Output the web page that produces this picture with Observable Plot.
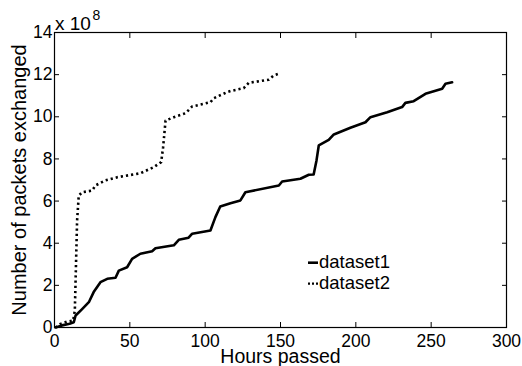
<!DOCTYPE html>
<html>
<head>
<meta charset="utf-8">
<script src="https://cdn.jsdelivr.net/npm/d3@7"></script>
<script src="https://cdn.jsdelivr.net/npm/@observablehq/plot@0.6"></script>
<style>
  html, body { margin: 0; padding: 0; background: #fff; }
  #chart { width: 522px; height: 366px; overflow: hidden; }
  svg { font-family: "Liberation Sans", Arial, sans-serif; }
</style>
</head>
<body>
<div id="chart"></div>
<script>
// Values in units of 1e8 packets
const seriesNames = ["dataset1", "dataset2"];
const d1Hours = [0.7, 5, 10, 12.8, 14, 18, 22.8, 26, 30.5, 35, 40.5, 42.7, 48.2, 51.5, 57, 64.8, 67, 79.2, 82.5, 89, 91.4, 103.5, 106.8, 110, 116.8, 123.4, 126.7, 148.9, 151.1, 163.2, 168.8, 172, 173.9, 175.4, 182, 185.4, 196.4, 206.4, 209.7, 220.8, 230.7, 232.9, 238.4, 246.2, 257.3, 259.5, 263.9];
const d1Values = [0.0, 0.1, 0.18, 0.25, 0.57, 0.85, 1.2, 1.68, 2.15, 2.31, 2.36, 2.7, 2.86, 3.26, 3.5, 3.62, 3.76, 3.9, 4.16, 4.26, 4.45, 4.6, 5.24, 5.74, 5.9, 6.03, 6.42, 6.74, 6.93, 7.06, 7.25, 7.26, 7.93, 8.64, 8.9, 9.16, 9.48, 9.74, 9.98, 10.22, 10.46, 10.66, 10.74, 11.09, 11.33, 11.57, 11.64];
const d2Hours = [0.7, 4, 8.4, 12.4, 13.5, 15, 16.1, 18.4, 25, 27.2, 33.8, 41.6, 57, 65.9, 70.8, 72.1, 73.7, 79.2, 87, 91.4, 103.5, 105.7, 114.6, 116.8, 125.6, 128.9, 142.2, 145.5, 150];
const d2Values = [0.0, 0.17, 0.28, 0.33, 0.81, 5.08, 6.26, 6.42, 6.5, 6.74, 6.98, 7.13, 7.32, 7.61, 7.85, 8.56, 9.82, 9.98, 10.17, 10.49, 10.69, 10.88, 11.17, 11.22, 11.36, 11.61, 11.76, 11.96, 12.07];
const xTicks = [0, 50, 100, 150, 200, 250, 300];
const yTicks = [0, 2, 4, 6, 8, 10, 12, 14];
const xLabel = "Hours passed";
const yLabel = "Number of packets exchanged";
const exponentBase = "x 10";
const exponent = "8";

const d1 = d1Hours.map((h, i) => ({h, v: d1Values[i]}));
const d2 = d2Hours.map((h, i) => ({h, v: d2Values[i]}));

const fontSize = 17.5;
const dotted = "2.2,3";
const plot = Plot.plot({
  width: 522,
  height: 366,
  marginLeft: 54,
  marginRight: 16,
  marginTop: 32,
  marginBottom: 39,
  style: {fontFamily: '"Liberation Sans", Arial, sans-serif', background: "#fff", color: "#000"},
  x: {domain: [0, 300]},
  y: {domain: [0, 14]},
  marks: [
    Plot.line(d1, {x: "h", y: "v", stroke: "#000", strokeWidth: 2.6, strokeLinejoin: "round"}),
    Plot.line(d2, {x: "h", y: "v", stroke: "#000", strokeWidth: 2.6, strokeDasharray: dotted, strokeLinecap: "butt", strokeLinejoin: "miter"}),
    Plot.frame({stroke: "#000", strokeWidth: 1.2}),
    // inward ticks on all four sides
    Plot.axisX(xTicks, {anchor: "bottom", tickSize: -5, fill: "none", label: null}),
    Plot.axisX(xTicks, {anchor: "top", tickSize: -5, fill: "none", label: null}),
    Plot.axisY(yTicks, {anchor: "left", tickSize: -5, fill: "none", label: null}),
    Plot.axisY(yTicks, {anchor: "right", tickSize: -5, fill: "none", label: null}),
    // tick labels
    Plot.axisX(xTicks, {anchor: "bottom", tickSize: 0, tickPadding: 7, fontSize, label: null}),
    Plot.axisY(yTicks, {anchor: "left", tickSize: 0, tickPadding: 2, fontSize, label: null}),
    // axis titles
    Plot.text([xLabel], {frameAnchor: "bottom", dy: 35.5, lineAnchor: "bottom", fontSize: 19.5, fill: "#000"}),
    Plot.text([yLabel], {frameAnchor: "left", dx: -29, rotate: -90, lineAnchor: "bottom", textAnchor: "middle", fontSize: 20, fill: "#000"})
  ]
});

const svg = d3.select(plot);
// exponent label
svg.append("text").attr("x", 55).attr("y", 30).attr("font-size", 19).attr("text-anchor", "start")
  .attr("fill", "#000").text(exponentBase);
svg.append("text").attr("x", 92.5).attr("y", 19.5).attr("font-size", 14).attr("text-anchor", "start")
  .attr("fill", "#000").text(exponent);

// legend
const legend = svg.append("g").attr("text-anchor", "start");
seriesNames.forEach((name, i) => {
  const yLine = 262.7 + i * 21;
  legend.append("line").attr("x1", 308).attr("x2", 318).attr("y1", yLine).attr("y2", yLine)
    .attr("stroke", "#000").attr("stroke-width", i === 0 ? 2.6 : 2.2)
    .attr("stroke-dasharray", i === 0 ? null : "2,2");
  legend.append("text").attr("x", 319).attr("y", yLine + 5.5).attr("font-size", 18.5)
    .attr("text-anchor", "start").attr("fill", "#000").text(name);
});

document.getElementById("chart").appendChild(plot);
</script>
</body>
</html>
